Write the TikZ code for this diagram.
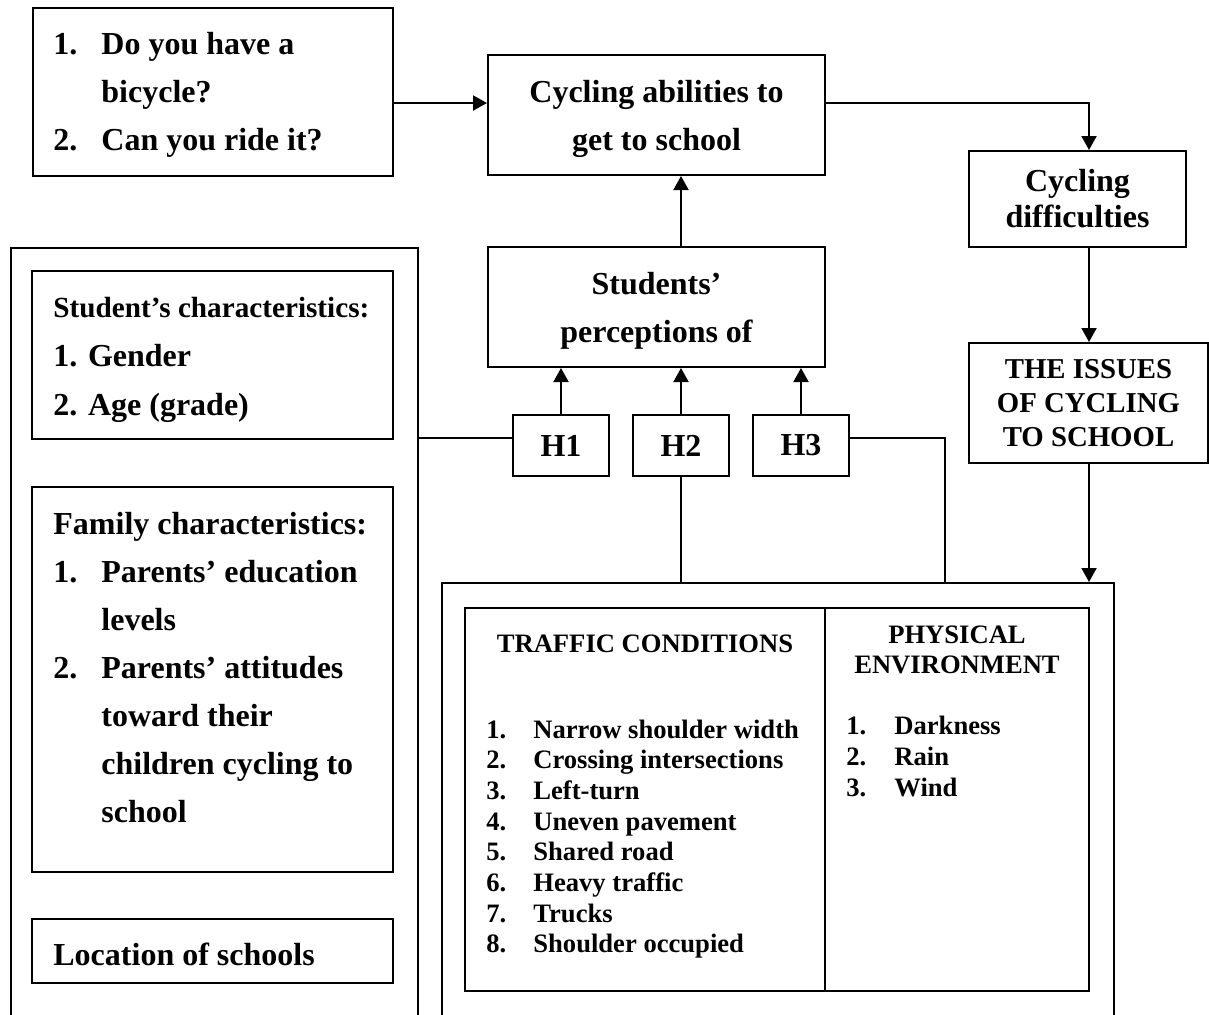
\documentclass[tikz,border=0pt]{standalone}
\usepackage{fontspec}
\setmainfont{Liberation Serif}
\usetikzlibrary{arrows.meta}
\tikzset{
  box/.style={draw, line width=1pt, inner sep=0pt, align=center},
  txt/.style={inner sep=0pt, anchor=base west},
  ctxt/.style={inner sep=0pt, anchor=base},
  mtxt/.style={inner sep=0pt, align=center},
  conn/.style={line width=1pt},
  arr/.style={line width=1pt, -{Triangle[length=7pt,width=7.5pt]}},
}
\newcommand{\numline}[3]{\hbox{\makebox[#1][l]{#2}#3}}
\begin{document}
\begin{tikzpicture}[x=0.5pt,y=-0.5pt,font=\bfseries]
\clip (0,0) rectangle (1209,1014);
\fill[white] (0,0) rectangle (1209,1014);
% top row
\node[box, minimum width=180pt, minimum height=84pt] (A) at (213,92) {};
\node[txt] (Atxt) at (53,54) {\fontsize{16}{24}\selectfont\vtop{\baselineskip=24pt
  \numline{24pt}{1.}{Do you have a}
  \hbox{\hspace*{24pt}bicycle?}
  \numline{24pt}{2.}{Can you ride it?}}};
\node[box, minimum width=168.5pt, minimum height=60pt] (B) at (656.5,115) {};
\node[mtxt, font=\bfseries\fontsize{16}{24}\selectfont] (Btxt) at ([yshift=-2pt]B.center) {Cycling abilities to\\get to school};
\node[box, minimum width=168.5pt, minimum height=60pt] (P) at (656.5,307) {};
\node[mtxt, font=\bfseries\fontsize{16}{24}\selectfont] (Ptxt) at ([yshift=-2pt]P.center) {Students’\\perceptions of};
\node[box, minimum width=48pt, minimum height=30.5pt, font=\bfseries\fontsize{16}{19}\selectfont] (H1) at (561,445.5) {H1};
\node[box, minimum width=48pt, minimum height=30.5pt, font=\bfseries\fontsize{16}{19}\selectfont] (H2) at (681,445.5) {H2};
\node[box, minimum width=48pt, minimum height=30.5pt, font=\bfseries\fontsize{16}{19}\selectfont] (H3) at (801,445.5) {H3};
\node[box, minimum width=108.5pt, minimum height=48pt, font=\bfseries\fontsize{16}{18}\selectfont] (D) at (1077.5,199) {Cycling\\difficulties};
\node[box, minimum width=119.5pt, minimum height=60pt, font=\bfseries\fontsize{14.4}{17}\selectfont] (I) at (1088.5,403) {THE ISSUES\\OF CYCLING\\TO SCHOOL};
% left container
\node[box, minimum width=203.5pt, minimum height=420pt, anchor=north west] (L) at (9.5,247) {};
\node[box, minimum width=180.5pt, minimum height=84pt] (S) at (212.5,355) {};
\node[txt] (Stxt) at (53,317) {\vtop{\baselineskip=24.5pt
  \hbox{\fontsize{14.6}{18}\selectfont Student’s characteristics:}
  \hbox{\fontsize{16}{18}\selectfont 1. Gender}
  \hbox{\fontsize{16}{18}\selectfont 2. Age (grade)}}};
\node[box, minimum width=180.5pt, minimum height=192.5pt] (F) at (212.5,679.5) {};
\node[txt] (Ftxt) at (53,534) {\fontsize{16}{24}\selectfont\vtop{\baselineskip=24pt
  \hbox{Family characteristics:}
  \numline{24pt}{1.}{Parents’ education}
  \hbox{\hspace*{24pt}levels}
  \numline{24pt}{2.}{Parents’ attitudes}
  \hbox{\hspace*{24pt}toward their}
  \hbox{\hspace*{24pt}children cycling to}
  \hbox{\hspace*{24pt}school}}};
\node[box, minimum width=180.5pt, minimum height=32pt] (Loc) at (212.5,951) {};
\node[txt] (Loctxt) at (53,965) {\fontsize{16}{24}\selectfont Location of schools};
% right container
\node[box, minimum width=336pt, minimum height=300pt, anchor=north west] (R) at (441,582) {};
\node[box, minimum width=180pt, minimum height=191.5pt] (T) at (645,799.5) {};
\node[box, minimum width=132pt, minimum height=191.5pt] (Ph) at (957,799.5) {};
\node[ctxt] (Ttitle) at (645,652) {\fontsize{13.3}{15}\selectfont TRAFFIC CONDITIONS};
\node[txt] (Tlist) at (486,738) {\fontsize{13.3}{15.35}\selectfont\vtop{\baselineskip=15.35pt
  \numline{23.5pt}{1.}{Narrow shoulder width}
  \numline{23.5pt}{2.}{Crossing intersections}
  \numline{23.5pt}{3.}{Left-turn}
  \numline{23.5pt}{4.}{Uneven pavement}
  \numline{23.5pt}{5.}{Shared road}
  \numline{23.5pt}{6.}{Heavy traffic}
  \numline{23.5pt}{7.}{Trucks}
  \numline{23.5pt}{8.}{Shoulder occupied}}};
\node[ctxt, font=\bfseries\fontsize{13.3}{15}\selectfont] (Phtitle) at (957,643) {PHYSICAL};
\node[ctxt, font=\bfseries\fontsize{13.3}{15}\selectfont] (Phtitle2) at (957,673) {ENVIRONMENT};
\node[txt] (Phlist) at (846,734) {\fontsize{13.3}{15.5}\selectfont\vtop{\baselineskip=15.5pt
  \numline{24pt}{1.}{Darkness}
  \numline{24pt}{2.}{Rain}
  \numline{24pt}{3.}{Wind}}};
% connectors
\coordinate (c1) at (1089,103);
\coordinate (c2) at (945,438);
\draw[arr] (A.east |- c1) -- (B.west |- c1);
\draw[arr] (B.east |- c1) -| (D.north -| c1);
\draw[arr] (D.south -| c1) -- (I.north -| c1);
\draw[arr] (I.south -| c1) -- (R.north -| c1);
\draw[arr] (P.north -| H2) -- (B.south -| H2);
\draw[arr] (H1.north) -- (P.south -| H1);
\draw[arr] (H2.north) -- (P.south -| H2);
\draw[arr] (H3.north) -- (P.south -| H3);
\draw[conn] (L.east |- c2) -- (H1.west |- c2);
\draw[conn] (H3.east |- c2) -| (R.north -| c2);
\draw[conn] (H2.south) -- (R.north -| H2);
\end{tikzpicture}
\end{document}
